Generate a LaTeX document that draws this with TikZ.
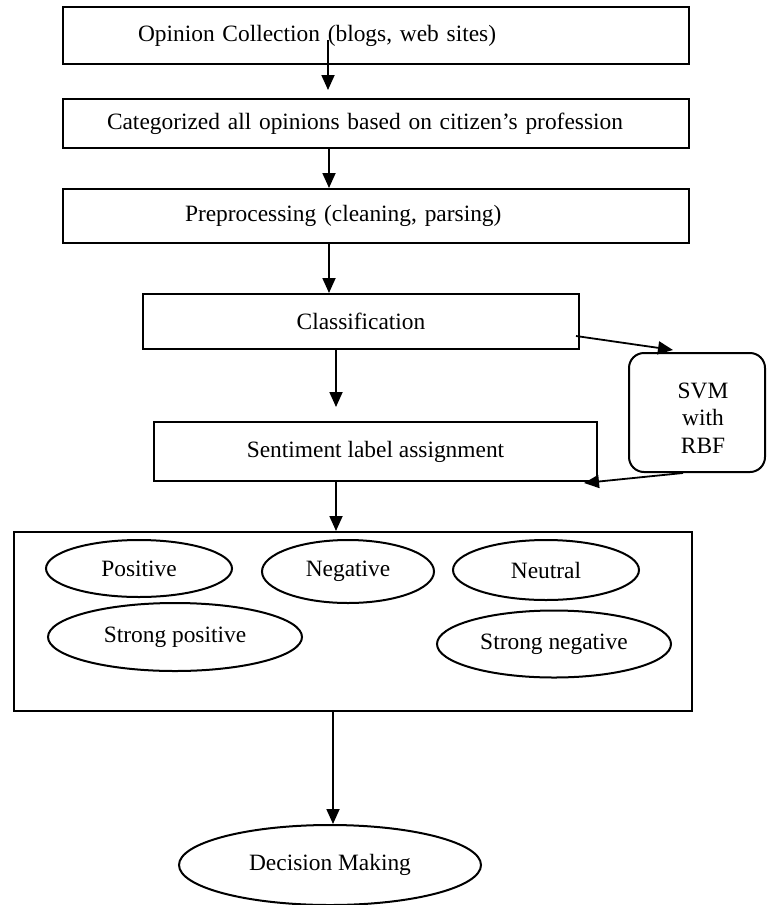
\documentclass[tikz,border=0pt]{standalone}
\usepackage{fontspec}
\setmainfont{Liberation Serif}
\usetikzlibrary{arrows.meta,shapes.geometric}
\begin{document}
\begin{tikzpicture}[x=0.5pt,y=-0.5pt,line width=1pt,
  box/.style={draw,rectangle,inner ysep=0pt},
  ell/.style={draw,ellipse,inner sep=0pt},
  arr/.style={-{Triangle[length=7.5pt,width=6.5pt]},line width=0.9pt},
  font=\fontsize{11.7pt}{13.8pt}\selectfont]
\useasboundingbox (0,0) rectangle (766,905);

% main boxes
\node[box,minimum height=28.5pt,text width=238pt,inner xsep=37.5pt,align=left] (b1) at (376,35.5) {Opinion Collection (blogs, web sites)};
\node[box,minimum height=24.5pt,text width=269pt,inner xsep=22pt,align=left] (b2) at (376,123.5) {Categorized all opinions based on citizen’s profession};
\node[box,minimum height=27pt,text width=191pt,inner xsep=61pt,align=left] (b3) at (376,216) {Preprocessing (cleaning, parsing)};
\node[box,minimum width=218pt,minimum height=27.5pt] (cl) at (361,321.5) {Classification};
\node[box,minimum width=221.5pt,minimum height=29.5pt] (se) at (375.5,451.5) {Sentiment label assignment};
\node[box,rounded corners=7.5pt,minimum width=68pt,minimum height=59.5pt] (svm) at (697,412.5) {};
\node[align=center,inner sep=0pt] (svmt) at (703,418) {SVM\\with\\RBF};

% sentiment classes
\node[box,minimum width=339pt,minimum height=89.5pt] (big) at (353,621.5) {};
\node[ell,minimum width=93pt,minimum height=28.5pt] (pos) at (139,568.5) {Positive};
\node[ell,minimum width=86pt,minimum height=31.5pt] (neg) at (348,571.5) {Negative};
\node[ell,minimum width=93pt,minimum height=30pt] (neu) at (546,570) {Neutral};
\node[ell,minimum width=127pt,minimum height=34pt] (spos) at (175,637) {Strong positive};
\node[ell,minimum width=117pt,minimum height=33.5pt] (sneg) at (554,644) {Strong negative};

\node[ell,minimum width=151pt,minimum height=40pt] (dec) at (330,865) {Decision Making};

% arrow positions
\coordinate (a1s) at (328,40);
\coordinate (a1e) at (328,90);
\coordinate (x2) at (329,0);
\coordinate (x4) at (336,0);
\coordinate (a4e) at (336,407);
\coordinate (a6s) at (576,336);
\coordinate (a6e) at (673,350);
\coordinate (x7) at (683,0);
\coordinate (a7e) at (584,483);
\coordinate (x8) at (333,0);

\draw[arr] (a1s) -- (a1e);
\draw[arr] (b2.south -| x2) -- (b3.north -| x2);
\draw[arr] (b3.south -| x2) -- (cl.north -| x2);
\draw[arr] (cl.south -| x4) -- (a4e);
\draw[arr] (se.south -| x4) -- (big.north -| x4);
\draw[arr] (a6s) -- (a6e);
\draw[arr] (svm.south -| x7) -- (a7e);
\draw[arr] (big.south -| x8) -- (dec.north -| x8);
\end{tikzpicture}
\end{document}
